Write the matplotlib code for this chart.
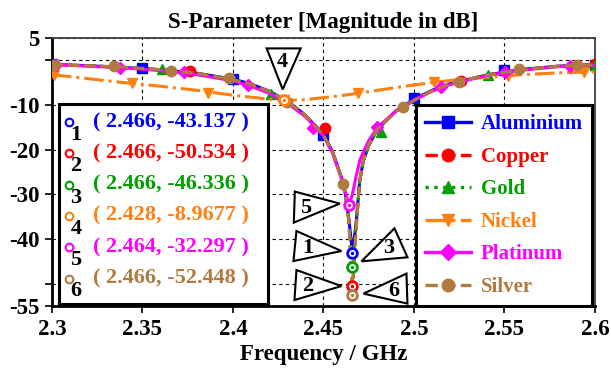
import matplotlib.pyplot as plt
from matplotlib import transforms
from matplotlib.lines import Line2D
from matplotlib.patches import Polygon, Rectangle

plt.rcParams['font.family'] = ['Liberation Serif', 'DejaVu Serif']
plt.rcParams['font.weight'] = 'bold'
plt.rcParams['axes.titleweight'] = 'bold'
plt.rcParams['axes.labelweight'] = 'bold'
plt.rcParams['axes.unicode_minus'] = False

# %%
# curves (frequency in GHz, magnitude in dB)
freq = [2.30, 2.32, 2.34, 2.36, 2.38, 2.40, 2.41, 2.42, 2.43, 2.44, 2.45, 2.455,
        2.46, 2.462, 2.464, 2.466, 2.468, 2.470, 2.472, 2.475, 2.48, 2.49, 2.50,
        2.51, 2.52, 2.54, 2.56, 2.58, 2.60]
al_db = [-0.9, -1.2, -1.6, -2.1, -2.9, -4.2, -5.3, -6.9, -9.1, -12.3, -16.6, -20.5,
         -26.3, -29.8, -35.5, -43.1, -36.5, -27.0, -22.5, -19.0, -15.3, -11.3, -8.7,
         -6.7, -5.2, -3.3, -2.0, -1.3, -1.0]
cu_db = [-1.0, -1.2, -1.6, -2.1, -2.9, -4.3, -5.4, -7.0, -9.2, -12.3, -16.7, -20.5,
         -26.4, -29.9, -35.8, -50.5, -37.5, -27.0, -22.5, -19.0, -15.3, -11.4, -8.9,
         -6.8, -5.3, -3.3, -2.1, -1.3, -0.9]
au_db = [-1.0, -1.2, -1.6, -2.1, -2.9, -4.3, -5.4, -7.0, -9.2, -12.3, -16.7, -20.5,
         -26.4, -29.9, -35.7, -46.3, -37.0, -27.0, -22.5, -19.0, -15.4, -11.4, -8.9,
         -6.8, -5.3, -3.3, -2.1, -1.3, -1.0]
pt_db = [-1.0, -1.3, -1.7, -2.3, -3.2, -4.6, -5.8, -7.4, -9.6, -12.6, -16.9, -20.8,
         -26.6, -29.4, -32.3, -30.0, -26.0, -22.5, -20.5, -18.0, -14.9, -11.4, -8.9,
         -6.9, -5.4, -3.4, -2.2, -1.4, -1.1]
ag_db = [-1.0, -1.2, -1.5, -2.1, -2.9, -4.3, -5.4, -7.0, -9.2, -12.3, -16.8, -20.5,
         -26.5, -30.0, -36.0, -52.4, -38.0, -27.0, -22.5, -19.0, -15.3, -11.5, -9.0,
         -6.8, -5.3, -3.3, -2.1, -1.3, -1.0]

ni_freq = [2.30, 2.32, 2.34, 2.36, 2.38, 2.40, 2.42, 2.428, 2.44, 2.46, 2.48, 2.50,
           2.52, 2.54, 2.56, 2.58, 2.60]
ni_db = [-3.2, -4.1, -5.0, -5.8, -6.7, -7.8, -8.7, -8.97, -8.8, -7.9, -6.7, -5.5,
         -4.5, -3.8, -3.2, -2.8, -2.6]

# marker positions along each curve
al_mf = [2.30, 2.35, 2.40, 2.45, 2.50, 2.55, 2.60]
al_mdb = [-0.8, -1.7, -4.2, -16.7, -8.5, -2.2, -1.0]
cu_mf = [2.30, 2.376, 2.451, 2.526, 2.60]
cu_mdb = [-1.0, -2.4, -15.2, -4.7, -0.9]
au_mf = [2.30, 2.361, 2.421, 2.482, 2.541, 2.60]
au_mdb = [-1.0, -1.9, -7.5, -16.0, -3.3, -1.0]
ni_mf = [2.301, 2.344, 2.386, 2.428, 2.469, 2.511, 2.552, 2.594]
ni_mdb = [-3.3, -5.1, -7.3, -8.97, -7.3, -4.9, -3.5, -2.6]
pt_mf = [2.302, 2.3375, 2.373, 2.4085, 2.444, 2.4795, 2.515, 2.5505, 2.586]
pt_mdb = [-1.0, -1.7, -2.6, -5.6, -15.2, -15.0, -6.0, -2.6, -1.3]
ag_mf = [2.301, 2.334, 2.366, 2.398, 2.430, 2.461, 2.494, 2.525, 2.558, 2.590]
ag_mdb = [-1.0, -1.3, -2.4, -4.0, -9.3, -27.7, -10.5, -4.9, -2.0, -1.0]

# marker readouts 1..6
mk_freq = [2.466, 2.466, 2.466, 2.428, 2.464, 2.466]
mk_db = [-43.137, -50.534, -46.336, -8.9677, -32.297, -52.448]
mk_text = ['( 2.466, -43.137 )', '( 2.466, -50.534 )', '( 2.466, -46.336 )',
           '( 2.428, -8.9677 )', '( 2.464, -32.297 )', '( 2.466, -52.448 )']

names = ['Aluminium', 'Copper', 'Gold', 'Nickel', 'Platinum', 'Silver']
colors = ['#0000FF', '#FF0000', '#00A000', '#FF8010', '#FF00FF', '#B07A40']
styles = ['-', '--', ':', '-.', '-', '--']
markers = ['s', 'o', '^', 'v', 'D', 'o']

# %%
fig = plt.figure(figsize=(6.11, 3.72), dpi=100)
ax = fig.add_axes([0.0851, 0.1774, 0.8887, 0.7204])

lines_x = [freq, freq, freq, ni_freq, freq, freq]
lines_y = [al_db, cu_db, au_db, ni_db, pt_db, ag_db]
marks_x = [al_mf, cu_mf, au_mf, ni_mf, pt_mf, ag_mf]
marks_y = [al_mdb, cu_mdb, au_mdb, ni_mdb, pt_mdb, ag_mdb]

handles = []
for i in range(6):
    ax.plot(lines_x[i], lines_y[i], color=colors[i], ls=styles[i], lw=2.2, zorder=3 + i)
    ax.plot(marks_x[i], marks_y[i], ls='none', marker=markers[i], color=colors[i],
            ms=7.5 if markers[i] != 'D' else 6.5, zorder=3 + i)
    handles.append(Line2D([], [], color=colors[i], ls=styles[i], lw=2.4,
                          marker=markers[i], ms=9 if markers[i] != 'D' else 8))

# readout markers (circle with dot)
for i in range(6):
    ax.plot(mk_freq[i], mk_db[i], 'o', mfc='white', mec=colors[i], mew=2, ms=7, zorder=20)
    ax.plot(mk_freq[i], mk_db[i], '.', color=colors[i], ms=3, zorder=21)

# callout triangles (offsets in pixels from the marker)
tri_pts = [[(-56, 22), (-59, -8), (-11, 2)],
           [(-56, 16), (-58, -14), (-11, 0)],
           [(42, 39), (55, 10), (9, 6)],
           [(-17, 52), (17, 52), (-1, 11)],
           [(-54, 13), (-55, -18), (-9, 1)],
           [(54, 21), (55, -9), (11, 1)]]
tri_num = [(-45, 5), (-45, 0), (36, 19), (-1, 38), (-43, -3), (41, 4)]
for i in range(6):
    trans = fig.dpi_scale_trans + transforms.ScaledTranslation(mk_freq[i], mk_db[i], ax.transData)
    pts = [(px / 100, py / 100) for px, py in tri_pts[i]]
    ax.add_patch(Polygon(pts, closed=True, facecolor='white', edgecolor='black',
                         lw=1.5, transform=trans, clip_on=False, zorder=25))
    ax.text(tri_num[i][0] / 100, tri_num[i][1] / 100, str(i + 1), transform=trans,
            ha='center', va='center', fontsize=16, fontweight='bold', zorder=26)

# axes
ax.set_xlim(2.3, 2.6)
ax.set_ylim(-55, 5)
ax.set_xticks([2.3, 2.35, 2.4, 2.45, 2.5, 2.55, 2.6])
ax.set_xticklabels(['2.3', '2.35', '2.4', '2.45', '2.5', '2.55', '2.6'], fontweight='bold')
ax.set_yticks([5, 0, -10, -20, -30, -40, -50, -55])
ax.set_yticklabels(['5', '', '-10', '-20', '-30', '-40', '', '-55'], fontweight='bold')
ax.tick_params(direction='out', length=5, width=1.2, labelsize=16.5, pad=4)
ax.grid(True, ls=(0, (3, 3)), color='black', lw=0.8)
for s in ['left', 'bottom']:
    ax.spines[s].set_linewidth(2)
for s in ['top', 'right']:
    ax.spines[s].set_linewidth(1.3)
    ax.spines[s].set_color('#404040')
ax.set_title('S-Parameter [Magnitude in dB]', fontsize=16.5, fontweight='bold', pad=7)
ax.set_xlabel('Frequency / GHz', fontsize=16.5, fontweight='bold', labelpad=3)

# legend
leg = ax.legend(handles, names, loc='upper right', bbox_to_anchor=(592 / 611, 1 - 105 / 372),
                bbox_transform=fig.transFigure, labelcolor='linecolor',
                prop={'size': 15, 'weight': 'bold'},
                handlelength=2.2, handletextpad=0.45, labelspacing=0.6, borderpad=0.45,
                fancybox=False, framealpha=1, borderaxespad=0)
leg.get_frame().set_edgecolor('black')
leg.get_frame().set_linewidth(2.2)
leg.set_zorder(30)

# readout box
fig.patches.append(Rectangle((59 / 611, 1 - 304 / 372), 209 / 611, 200 / 372,
                             transform=fig.transFigure, facecolor='white',
                             edgecolor='black', lw=2.2, zorder=30))
for i in range(6):
    yy = 1 - (122 + 31.3 * i) / 372
    fig.text(93 / 611, yy, mk_text[i], color=colors[i], fontsize=16, fontweight='bold',
             va='center', zorder=31)
    fig.lines.append(Line2D([69 / 611], [yy], transform=fig.transFigure, marker='o',
                            mfc='white', mec=colors[i], mew=1.5, ms=5.5, zorder=31))
    fig.text(76 / 611, yy - 13 / 372, str(i + 1), color='black', fontsize=16,
             fontweight='bold', ha='center', va='center', zorder=31)

plt.savefig('out.png', dpi=100)
